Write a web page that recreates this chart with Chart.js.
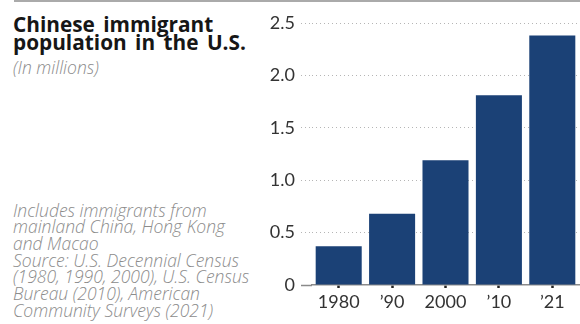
<!DOCTYPE html>
<html>
<head>
<meta charset="utf-8">
<script src="https://cdn.jsdelivr.net/npm/chart.js@4"></script>
<style>
  html, body { margin: 0; padding: 0; background: #fff; }
  #wrap { position: relative; width: 580px; height: 324px; overflow: hidden; background: #fff; }
  #topline { position: absolute; left: 14px; top: 0; width: 566px; height: 2px; background: #aaaaaa; }
  #title { position: absolute; left: 13px; top: 14.6px; font-family: "Open Sans", sans-serif; font-weight: 700; font-size: 20.8px; line-height: 18px; word-spacing: 3px; color: #161616; white-space: nowrap; }
  #sub { position: absolute; left: 13px; top: 59.4px; font-family: "Open Sans", sans-serif; font-style: italic; font-weight: 300; font-size: 17.5px; line-height: 16.7px; color: #8c8c8c; white-space: nowrap; }
  #note { position: absolute; left: 13px; top: 201.5px; font-family: "Open Sans", sans-serif; font-style: italic; font-weight: 300; font-size: 17.5px; line-height: 16.7px; color: #8c8c8c; white-space: nowrap; }
  canvas { position: absolute; left: 0; top: 0; }
</style>
</head>
<body>
<div id="wrap">
  <div id="topline"></div>
  <div id="title">Chinese immigrant<br>population in the U.S.</div>
  <div id="sub">(In millions)</div>
  <div id="note">Includes immigrants from<br>mainland China, Hong Kong<br>and Macao<br>Source: U.S. Decennial Census<br>(1980, 1990, 2000), U.S. Census<br>Bureau (2010), American<br>Community Surveys (2021)</div>
  <canvas id="c" width="580" height="324"></canvas>
</div>
<script>
const categories = ["1980", "\u201990", "2000", "\u201910", "\u201921"];
const populationMillions = [0.37, 0.68, 1.19, 1.81, 2.38];
const yTicks = [0, 0.5, 1.0, 1.5, 2.0, 2.5];

const ctx = document.getElementById('c').getContext('2d');
new Chart(ctx, {
  type: 'bar',
  data: {
    labels: categories,
    datasets: [{
      data: populationMillions,
      backgroundColor: '#1b4176',
      borderWidth: 0,
      categoryPercentage: 1.0,
      barPercentage: 0.862
    }]
  },
  options: {
    responsive: false,
    animation: false,
    events: [],
    layout: { padding: { top: 23, right: 1, left: 0, bottom: 0 } },
    plugins: { legend: { display: false }, tooltip: { enabled: false } },
    scales: {
      x: {
        grid: {
          display: true,
          drawOnChartArea: false,
          offset: false,
          drawTicks: true,
          tickLength: 3,
          tickWidth: 2.5,
          tickColor: '#222'
        },
        border: { display: true, color: '#8a8a8a', width: 1.5 },
        ticks: {
          color: '#333',
          font: { family: 'Lato', size: 18 },
          padding: 3,
          maxRotation: 0
        },
        afterFit: (s) => { s.height = 39; }
      },
      y: {
        min: 0,
        max: 2.5,
        afterBuildTicks: (s) => { s.ticks = yTicks.map(v => ({ value: v })); },
        grid: {
          color: (c) => c.tick && c.tick.value === 0 ? 'rgba(0,0,0,0)' : '#b5b5b5',
          lineWidth: 1,
          drawTicks: true,
          tickLength: 11,
          tickColor: (c) => c.tick && c.tick.value === 0 ? '#8a8a8a' : '#b5b5b5',
          tickWidth: (c) => c.tick && c.tick.value === 0 ? 1.5 : 1,
          tickBorderDash: (c) => c.tick && c.tick.value === 0 ? [] : [1, 3]
        },
        border: { display: false, dash: [1, 3] },
        ticks: {
          color: '#333',
          font: { family: 'Lato', size: 18 },
          padding: 6,
          callback: (v) => v === 0 ? '0' : Number(v).toFixed(1)
        },
        afterFit: (s) => { s.width = 312; }
      }
    }
  }
});
</script>
</body>
</html>
